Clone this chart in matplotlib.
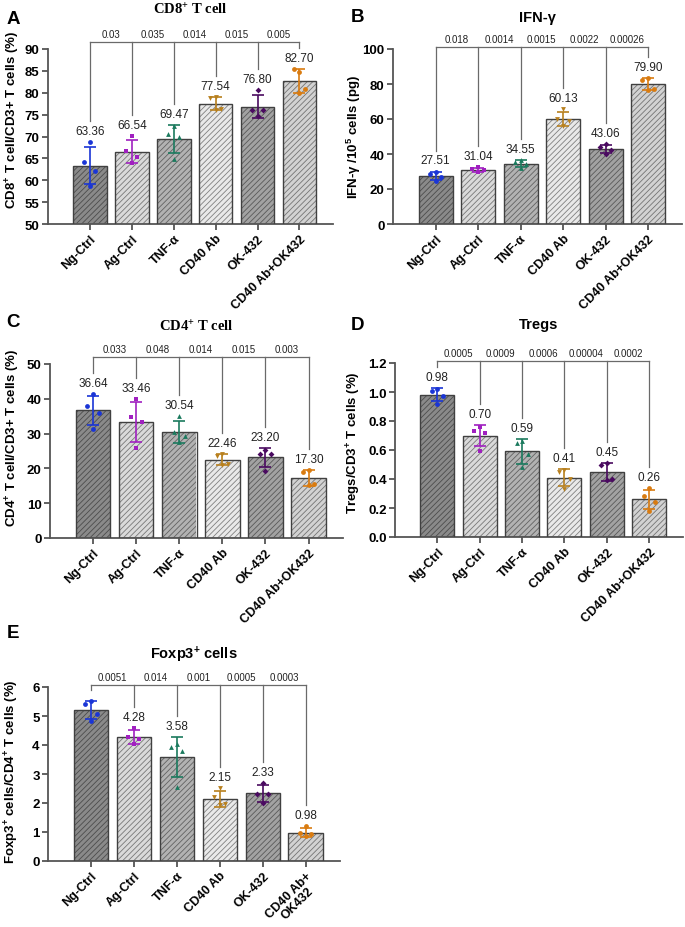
import numpy as np
import matplotlib
matplotlib.use('Agg')
import matplotlib.pyplot as plt
from matplotlib.colors import to_rgb

plt.rcParams['font.family'] = ['Liberation Sans', 'DejaVu Sans']
plt.rcParams['mathtext.default'] = 'regular'
plt.rcParams['hatch.linewidth'] = 0.6

W, H = 685, 928

groups = ['Ng-Ctrl', 'Ag-Ctrl', 'TNF-α', 'CD40 Ab', 'OK-432', 'CD40 Ab+OK432']
groups_e = ['Ng-Ctrl', 'Ag-Ctrl', 'TNF-α', 'CD40 Ab', 'OK-432', 'CD40 Ab+\nOK432']

# A - CD8+ T cell
cd8_mean = [63.36, 66.54, 69.47, 77.54, 76.80, 82.70]
cd8_pts = [[68.7, 64.1, 62.2, 58.7], [70.1, 66.6, 65.4, 64.05], [72.4, 70.6, 70.0, 64.9],
           [79.0, 78.7, 76.4, 76.06], [80.6, 76.0, 76.0, 74.6], [84.7, 85.4, 80.8, 79.9]]
cd8_p = ['0.03', '0.035', '0.014', '0.015', '0.005']

# B - IFN-gamma
ifn_mean = [27.51, 31.04, 34.55, 60.13, 43.06, 79.90]
ifn_pts = [[30.0, 28.4, 26.8, 24.84], [32.6, 31.3, 30.6, 29.66], [36.6, 35.2, 34.4, 32.0],
           [65.5, 60.0, 59.0, 56.02], [45.5, 44.2, 42.4, 40.14], [83.3, 82.4, 77.4, 76.5]]
ifn_p = ['0.018', '0.0014', '0.0015', '0.0022', '0.00026']

# C - CD4+ T cell
cd4_mean = [36.64, 33.46, 30.54, 22.46, 23.20, 17.30]
cd4_pts = [[41.3, 37.9, 36.0, 31.36], [39.9, 34.7, 33.3, 25.94], [35.0, 30.4, 29.3, 27.46],
           [24.0, 23.7, 21.2, 20.94], [25.4, 24.2, 24.0, 19.2], [19.4, 19.1, 15.5, 15.2]]
cd4_p = ['0.033', '0.048', '0.014', '0.015', '0.003']

# D - Tregs
treg_mean = [0.98, 0.70, 0.59, 0.41, 0.45, 0.26]
treg_pts = [[1.02, 1.01, 0.97, 0.92], [0.76, 0.73, 0.72, 0.59], [0.66, 0.65, 0.57, 0.48],
            [0.46, 0.45, 0.40, 0.33], [0.51, 0.50, 0.40, 0.39], [0.34, 0.28, 0.24, 0.18]]
treg_p = ['0.0005', '0.0009', '0.0006', '0.00004', '0.0002']

# E - Foxp3+ cells
foxp3_mean = [5.21, 4.28, 3.58, 2.15, 2.33, 0.98]
foxp3_pts = [[5.52, 5.40, 5.08, 4.82], [4.60, 4.28, 4.22, 4.02], [4.03, 3.93, 3.80, 2.56],
             [2.52, 2.20, 1.96, 1.92], [2.70, 2.31, 2.30, 2.01], [1.20, 0.95, 0.92, 0.85]]
foxp3_p = ['0.0051', '0.014', '0.001', '0.0005', '0.0003']

# styles
fills = ['#8a8a8a', '#dadada', '#b2b2b2', '#e9e9e9', '#a2a2a2', '#d2d2d2']
dot_colors = ['#1a35d6', '#a020c0', '#1b7a5e', '#b8801e', '#4a0a60', '#d97b10']
markers = ['o', 's', '^', 'v', 'D', 'o']
jitter = np.array([0.0, -0.13, 0.13, 0.0])

fig = plt.figure(figsize=(W / 100, H / 100), dpi=100)


def px_axes(l, t, r, b):
    return fig.add_axes([l / W, 1 - b / H, (r - l) / W, (b - t) / H])


def ftext(x, y, s, **kw):
    fig.text(x / W, 1 - y / H, s, **kw)


def panel(ax, labels, means, pts, pvals, ylim, yticks, fmt, br_off, skip_label=()):
    x = np.arange(len(means))
    hatch_cols = [tuple(0.55 * c for c in to_rgb(f)) for f in fills]
    for i in range(len(means)):
        ax.bar(x[i], means[i], width=0.8, color=fills[i], edgecolor=hatch_cols[i],
               hatch='//////', linewidth=0, zorder=2)
    ax.bar(x, means, width=0.8, color='none', edgecolor='#404040', linewidth=1.0, zorder=3)
    ax.set_xlim(-1.0, 5.8)
    ax.set_ylim(*ylim)
    dpp = (ylim[1] - ylim[0]) / (ax.get_position().height * H)
    tops = []
    for i in range(len(means)):
        p = np.array(pts[i])
        sd = p.std(ddof=1)
        ax.errorbar(x[i], means[i], yerr=sd, color=dot_colors[i], capsize=4,
                    elinewidth=1.2, capthick=1.2, zorder=4)
        ax.scatter(x[i] + jitter, p, marker=markers[i], color=dot_colors[i],
                   s=12 if markers[i] != 'D' else 9, zorder=5, linewidths=0)
        top = max(means[i] + sd, p.max()) + 3 * dpp
        if i in skip_label:
            tops.append(top + 8 * dpp)
        else:
            ax.text(x[i], top + 2 * dpp, fmt.format(means[i]), ha='center', va='bottom',
                    fontsize=8.5, color='#222222', zorder=6)
            tops.append(top + 18 * dpp)
    # significance bracket
    yb = ylim[1] + br_off * dpp
    lc = '#6a6a6a'
    ax.plot([0, 5], [yb, yb], color=lc, lw=0.9, clip_on=False)
    for i in range(len(means)):
        ax.plot([i, i], [yb, min(tops[i], yb)], color=lc, lw=0.9, clip_on=False)
    for i, s in enumerate(pvals):
        ax.text(i + 0.5, yb + 3 * dpp, s, ha='center', va='bottom', fontsize=7,
                color='#222222')
    ax.set_yticks(yticks)
    ax.set_xticks(x)
    ax.set_xticklabels(labels, rotation=45, ha='right', rotation_mode='anchor',
                       fontsize=9, fontweight='bold', multialignment='center',
                       linespacing=1.0)
    for t in ax.get_yticklabels():
        t.set_fontweight('bold')
        t.set_fontsize(9.5)
    for s in ['top', 'right']:
        ax.spines[s].set_visible(False)
    for s in ['left', 'bottom']:
        ax.spines[s].set_color('#555555')
        ax.spines[s].set_linewidth(1.3)
    ax.tick_params(colors='#555555', width=1.3, length=4, labelcolor='black')
    ax.tick_params(axis='x', pad=2)
    ax.tick_params(axis='y', pad=2)


axA = px_axes(48, 50, 333, 225)
panel(axA, groups, cd8_mean, cd8_pts, cd8_p, (50, 90), np.arange(50, 91, 5), '{:.2f}', 7)
axB = px_axes(393, 50, 682, 225)
panel(axB, groups, ifn_mean, ifn_pts, ifn_p, (0, 100), np.arange(0, 101, 20), '{:.2f}', 2)
axC = px_axes(50, 365, 343, 539)
panel(axC, groups, cd4_mean, cd4_pts, cd4_p, (0, 50), np.arange(0, 51, 10), '{:.2f}', 7)
axD = px_axes(395, 364, 683, 538)
panel(axD, groups, treg_mean, treg_pts, treg_p, (0, 1.2), np.arange(0, 1.21, 0.2), '{:.2f}', 2)
axD.set_yticklabels(['{:.1f}'.format(v) for v in np.arange(0, 1.21, 0.2)], fontweight='bold', fontsize=9.5)
axE = px_axes(48, 688, 340, 862)
panel(axE, groups_e, foxp3_mean, foxp3_pts, foxp3_p, (0, 6), np.arange(0, 7, 1), '{:.2f}', 2,
      skip_label=(0,))

# titles
ftext(190, 10, 'CD8$^{+}$ T cell', ha='center', va='center', fontsize=10.5,
      fontweight='bold', family=['Liberation Serif'])
ftext(537, 18, 'IFN-γ', ha='center', va='center', fontsize=10.5, fontweight='bold')
ftext(196, 327, 'CD4$^{+}$ T cell', ha='center', va='center', fontsize=10.5,
      fontweight='bold', family=['Liberation Serif'])
ftext(539, 325, 'Tregs', ha='center', va='center', fontsize=10.5, fontweight='bold')
ftext(194, 655, 'Foxp3$^{+}$ cells', ha='center', va='center', fontsize=10.5, fontweight='bold')

# panel letters
for s, (px, py) in zip('ABCDE', [(13, 20), (357, 18), (13, 323), (357, 325), (13, 633)]):
    ftext(px, py, s, ha='center', va='center', fontsize=13.5, fontweight='bold')

# y labels
ylabs = ['CD8$^{+}$ T cell/CD3+ T cells (%)', 'IFN-γ /10$^{5}$ cells (pg)',
         'CD4$^{+}$ T cell/CD3+ T cells (%)', 'Tregs/CD3$^{+}$ T cells (%)',
         'Foxp3$^{+}$ cells/CD4$^{+}$ T cells (%)']
for s, (px, py) in zip(ylabs, [(13, 120), (354, 137), (13, 438), (354, 443), (12, 772)]):
    ftext(px, py, s, ha='center', va='center', rotation=90, fontsize=9.5, fontweight='bold')

fig.savefig('out.png', dpi=100)
